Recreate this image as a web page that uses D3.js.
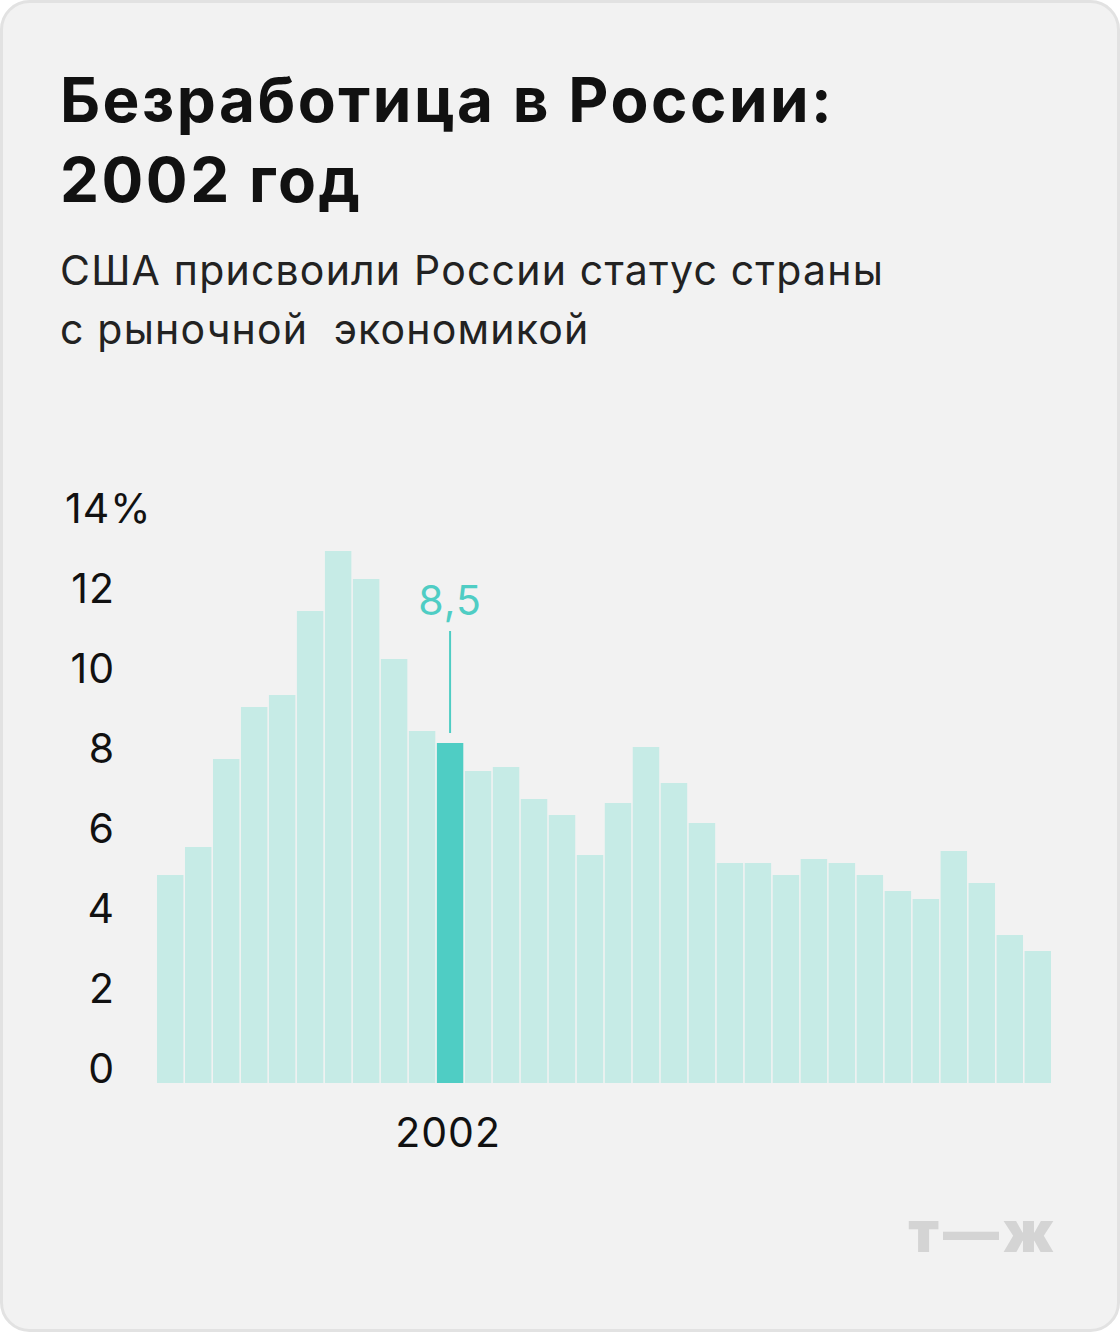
<!DOCTYPE html>
<html><head><meta charset="utf-8">
<script src="https://cdn.jsdelivr.net/npm/d3@7"></script>
<style>body{margin:0;background:#fff}</style>
</head><body><div id="wrapper"></div>
<script>
const years = d3.range(1992, 2024);
const values = [5.2, 5.9, 8.1, 9.4, 9.7, 11.8, 13.3, 12.6, 10.6, 8.8, 8.5, 7.8, 7.9, 7.1, 6.7, 5.7,
  7.0, 8.4, 7.5, 6.5, 5.5, 5.5, 5.2, 5.6, 5.5, 5.2, 4.8, 4.6, 5.8, 5.0, 3.7, 3.3];
const yTicks = [0, 2, 4, 6, 8, 10, 12, 14];
const highlightYear = 2002;

const svg = d3.select("#wrapper").append("svg")
  .attr("width", 1120).attr("height", 1332)
  .style("font-family", "Inter, Roboto, sans-serif");

svg.append("rect").attr("x", 1.5).attr("y", 1.5).attr("width", 1117).attr("height", 1329)
  .attr("rx", 28).attr("fill", "#f2f2f2").attr("stroke", "#e2e2e2").attr("stroke-width", 3);

svg.append("text").attr("font-size", 62).attr("font-weight", 700).attr("fill", "#111")
  .attr("letter-spacing", 2.5)
  .selectAll("tspan").data(["Безработица в России:", "2002 год"]).join("tspan")
  .attr("x", 60).attr("y", (d, i) => 122 + i * 80).text(d => d);

svg.append("text").attr("font-size", 41).attr("fill", "#222").attr("letter-spacing", 1.2)
  .selectAll("tspan").data(["США присвоили России статус страны", "с рыночной  экономикой"]).join("tspan")
  .attr("x", 60).attr("y", (d, i) => 285 + i * 59).attr("xml:space", "preserve").text(d => d);

const x = d3.scaleBand().domain(years).range([157, 1051]).paddingInner(0.055);
const y = d3.scaleLinear().domain([0, 14]).range([1083, 523]);

svg.append("g").selectAll("text").data(yTicks).join("text")
  .attr("x", d => d === 14 ? 65 : 115).attr("y", d => y(d))
  .attr("text-anchor", d => d === 14 ? "start" : "end")
  .attr("font-size", 41).attr("letter-spacing", 1).attr("fill", "#111")
  .text(d => d === 14 ? "14%" : d);

svg.append("g").selectAll("rect").data(values).join("rect")
  .attr("x", (d, i) => x(years[i])).attr("width", x.bandwidth())
  .attr("y", d => y(d)).attr("height", d => y(0) - y(d))
  .attr("fill", (d, i) => years[i] === highlightYear ? "#4fcdc4" : "#c6ebe6");

const hx = x(highlightYear) + x.bandwidth() / 2;
const hv = values[years.indexOf(highlightYear)];
svg.append("line").attr("x1", hx).attr("x2", hx).attr("y1", 631).attr("y2", y(hv) - 10)
  .attr("stroke", "#4fcdc4").attr("stroke-width", 2);
svg.append("text").attr("x", hx).attr("y", 615).attr("text-anchor", "middle")
  .attr("font-size", 41).attr("letter-spacing", 1).attr("fill", "#4fcdc4").text(String(hv).replace(".", ","));

svg.append("text").attr("x", hx - 2).attr("y", 1147).attr("text-anchor", "middle")
  .attr("font-size", 41).attr("letter-spacing", 1).attr("fill", "#111").text(highlightYear);

svg.append("text").attr("x", 1058).attr("y", 1252).attr("text-anchor", "end")
  .attr("font-size", 56).attr("font-weight", 900).attr("letter-spacing", 4).attr("fill", "#d4d4d4").text("т—ж");
</script></body></html>
